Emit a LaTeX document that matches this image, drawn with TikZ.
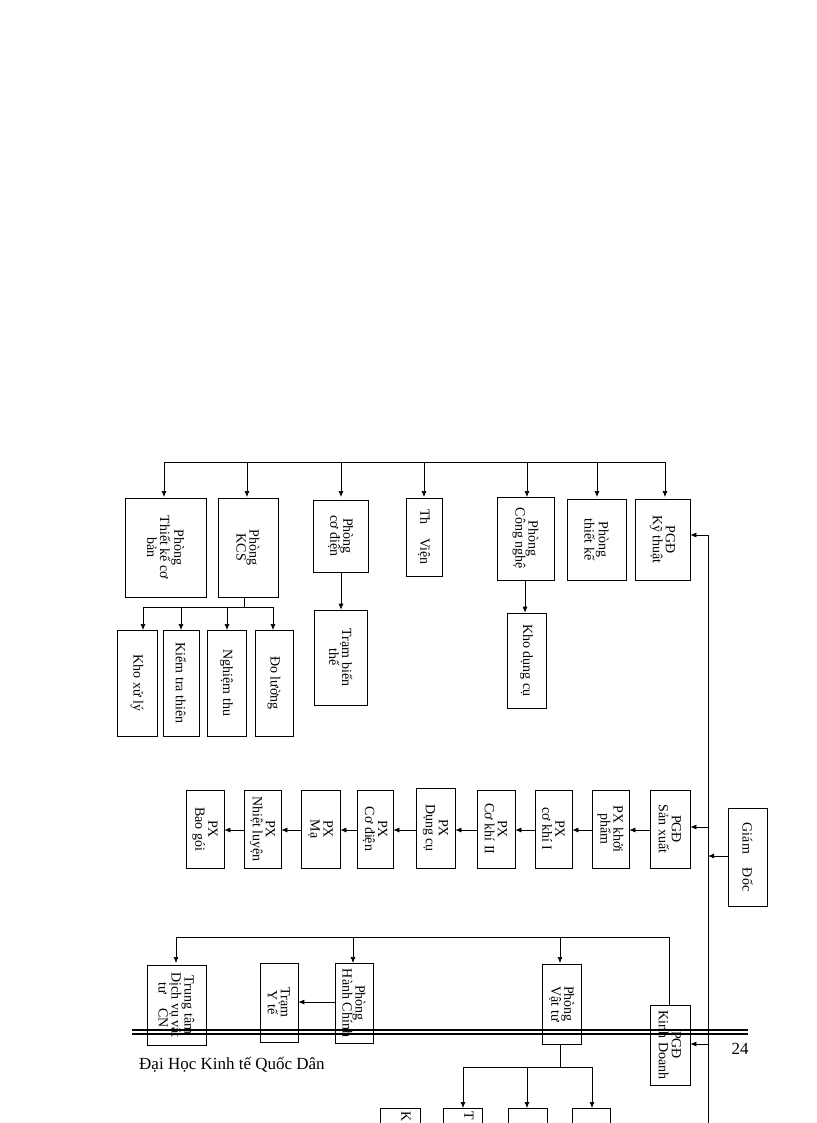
\documentclass[tikz,border=0pt]{standalone}
\usepackage{fontspec}
\setmainfont{Liberation Serif}
\usetikzlibrary{arrows.meta}
\newcommand{\bx}[6]{\node[bx,minimum width={(#5-#3)*1pt},minimum height={(#4-#2)*1pt}] (#1) at ({(#2+#4)/2},{(#3+#5)/2}) {#6};}
\begin{document}
\begin{tikzpicture}[x=1pt,y=-1pt,
  bx/.style={draw,rotate=-90,inner sep=1pt,align=center,font=\fontsize{14}{13}\selectfont,anchor=center},
  ar/.style={-{Latex[length=6pt,width=5pt]}},
  ln/.style={line width=0.7pt}]
\useasboundingbox (0,0) rectangle (816,1123);
\clip (0,0) rectangle (816,1123);
\begin{scope}[ln]
% top row
\bx{tkcb}{125}{498}{206}{597}{Phòng\\Thiết kế cơ\\bản}
\bx{kcs}{218}{498}{278}{597}{Phòng\\KCS}
\bx{cd}{313}{500}{368}{572}{Phòng\\cơ điện}
\bx{tv}{406}{498}{442}{576}{Th\quad Viện}
\bx{cn}{497}{497}{554}{580}{Phòng\\Công nghệ}
\bx{tk}{567}{499}{626}{580}{Phòng\\thiết kế}
\bx{kt}{635}{499}{690}{580}{PGĐ\\Kỹ thuật}
\coordinate (b1) at (164,462); \coordinate (b2) at (665,462);
\draw (b1) -- (b2);
\foreach \n/\x in {tkcb/164,kcs/247,cd/341,tv/424,cn/527,tk/597,kt/665}
  \draw[ar] (\x,462) -- (\x,497);
% KCS children
\bx{kxl}{117}{630}{157}{736}{Kho xử lý}
\bx{ktt}{163}{630}{199}{736}{Kiểm tra thiên}
\bx{nt}{207}{630}{246}{736}{Nghiệm thu}
\bx{dl}{255}{630}{293}{736}{Đo lường}
\draw (kcs.east -| 244,0) -- (244,607);
\draw (143,607) -- (273,607);
\foreach \x in {143,181,227,273} \draw[ar] (\x,607) -- (\x,630);
\bx{tbt}{314}{610}{367}{705}{Trạm biến\\thế}
\draw[ar] (341,572) -- (tbt.west -| 341,0);
\bx{kdc}{507}{613}{546}{708}{Kho dụng cụ}
\draw[ar] (525,580) -- (kdc.west -| 525,0);
% main vertical
\coordinate (v1) at (708,535); \coordinate (v2) at (708,1123);
\draw (v1) -- (v2);
\draw[ar] (v1) -- (kt.north |- v1);
\bx{gd}{728}{808}{767}{906}{Giám\quad Đốc}
\draw[ar] (gd.south |- 0,856) -- (708,856);
% row 2
\bx{sx}{650}{790}{690}{868}{PGĐ\\Sản xuất}
\bx{kp}{592}{790}{629}{868}{PX khởi\\phẩm}
\bx{ck1}{535}{790}{572}{868}{PX\\cơ khí I}
\bx{ck2}{477}{790}{515}{868}{PX\\Cơ khí II}
\bx{dc}{416}{788}{455}{868}{PX\\Dụng cụ}
\bx{pcd}{357}{790}{393}{868}{PX\\Cơ điện}
\bx{ma}{301}{790}{340}{868}{PX\\Mạ}
\bx{nl}{244}{790}{281}{868}{PX\\Nhiệt luyện}
\bx{bg}{186}{790}{224}{868}{PX\\Bao gói}
\draw[ar] (708,827) -- (sx.north |- 0,827);
\foreach \a/\b in {sx/kp,kp/ck1,ck1/ck2,ck2/dc,dc/pcd,pcd/ma,ma/nl,nl/bg}
  \draw[ar] (\a.south |- 0,830) -- (\b.north |- 0,830);
% row 3
\bx{kd}{650}{1005}{690}{1085}{PGĐ\\Kinh Doanh}
\bx{ttdv}{147}{965}{206}{1045}{Trung tâm\\Dịch vụ vật\\tư\quad CN}
\bx{yt}{260}{963}{298}{1042}{Trạm\\Y tế}
\bx{hc}{335}{963}{373}{1043}{Phòng\\Hành Chính}
\bx{vt}{542}{964}{581}{1044}{Phòng\\Vật tư}
\draw[ar] (708,1044) -- (kd.north |- 0,1044);
\draw (kd.west -| 669,0) -- (669,937) -- (176,937);
\foreach \x in {176,353,560} \draw[ar] (\x,937) -- (\x,963);
\draw[ar] (hc.south |- 0,1002) -- (yt.north |- 0,1002);
\draw (vt.east -| 560,0) -- (560,1067);
\draw (463,1067) -- (592,1067);
\foreach \x in {463,527,592} \draw[ar] (\x,1067) -- (\x,1108);
\draw (380,1108) rectangle (420,1130);
\draw (443,1108) rectangle (482,1130);
\draw (508,1108) rectangle (547,1130);
\draw (572,1108) rectangle (610,1130);
\node[rotate=-90,anchor=west,inner sep=1pt,font=\fontsize{14}{13}\selectfont] (k1) at (406,1110) {K};
\node[rotate=-90,anchor=west,inner sep=1pt,font=\fontsize{14}{13}\selectfont] (k2) at (469,1110) {T};
\end{scope}
% footer
\draw[line width=1.2pt] (132,1030) -- (748,1030);
\draw[line width=1.2pt] (132,1034) -- (748,1034);
\node[anchor=west,font=\fontsize{17}{17}\selectfont,inner sep=0] (ft) at (139,1065) {Đại Học Kinh tế Quốc Dân};
\node[font=\fontsize{17}{17}\selectfont,inner sep=0] (pg) at (740,1049) {24};
\end{tikzpicture}
\end{document}
